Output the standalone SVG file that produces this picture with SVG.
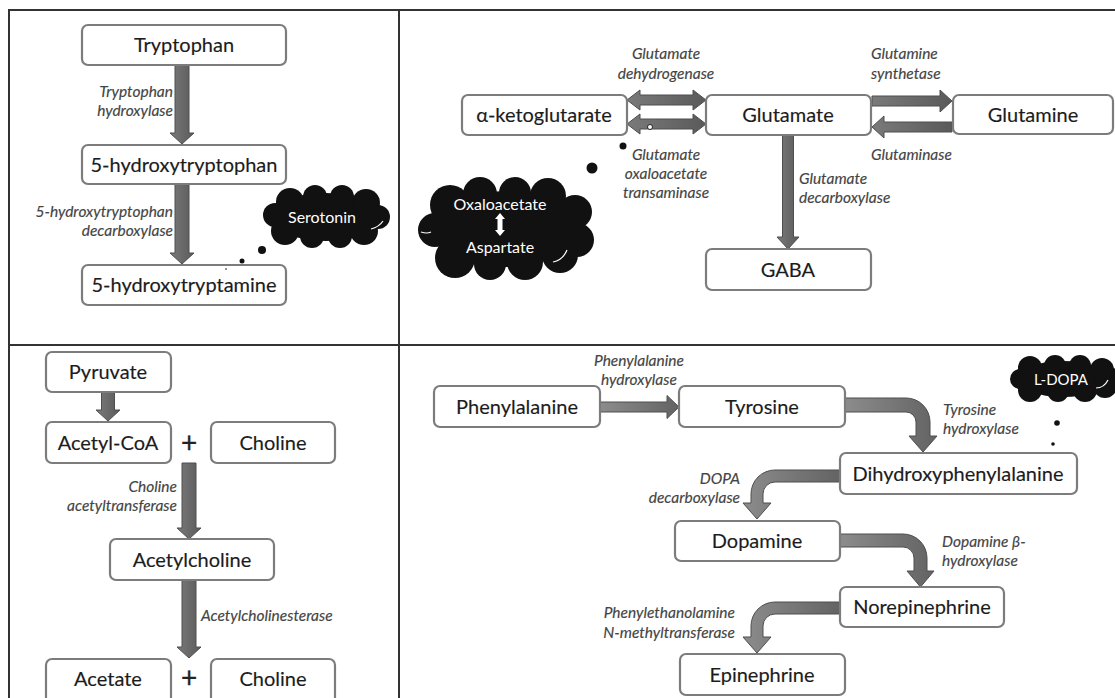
<svg xmlns="http://www.w3.org/2000/svg" width="1115" height="698" viewBox="0 0 1115 698">
<defs>
<linearGradient id="ag" x1="0" y1="0" x2="1" y2="0">
<stop offset="0" stop-color="#8c8c8c"/>
<stop offset="1" stop-color="#636363"/>
</linearGradient>
<linearGradient id="vg" x1="0" y1="0" x2="1" y2="0">
<stop offset="0" stop-color="#7a7a7a"/>
<stop offset="0.5" stop-color="#6a6a6a"/>
<stop offset="1" stop-color="#5a5a5a"/>
</linearGradient>
</defs>
<style>
.box{fill:#fff;stroke:#7c7c7c;stroke-width:2.2}
.t{font-family:Lato,"Liberation Sans",sans-serif;font-size:20px;fill:#1c1c1c;stroke:#1c1c1c;stroke-width:0.15;text-anchor:middle}
.l{font-family:Lato,"Liberation Sans",sans-serif;font-size:15.5px;font-style:italic;fill:#444;stroke:#444;stroke-width:0.15}
.e{text-anchor:end}
.m{text-anchor:middle}
.w{font-family:Lato,"Liberation Sans",sans-serif;fill:#fff;text-anchor:middle}
.arr{fill:url(#vg);stroke:#4e4e4e;stroke-width:1}
.harr{fill:url(#ag);stroke:#4e4e4e;stroke-width:1}
.frame{stroke:#333;stroke-width:2;fill:none}
.cloud{fill:#111}
.dot{fill:#111}
.plus{font-family:Lato,"Liberation Sans",sans-serif;font-size:28px;fill:#222;stroke:#222;stroke-width:0.3;text-anchor:middle}
</style>
<rect width="1115" height="698" fill="#fff"/>
<g id="frame">
<path class="frame" d="M9,698 V10 H1115 M399,10 V698 M9,345 H1115"/>
</g>
<g id="connectors">
<path class="arr" d="M175,65 H189 V133 H194 L182,144 L170,133 H175 Z"/>
<path class="arr" d="M175,184 H189 V253 H194 L182,264 L170,253 H175 Z"/>
<path class="arr" d="M101.5,392 H114.5 V410 H120 L108,421 L96,410 H101.5 Z"/>
<path class="arr" d="M182,463 H196 V528 H201 L189,539 L177,528 H182 Z"/>
<path class="arr" d="M182,580 H196 V647 H201 L189,658 L177,647 H182 Z"/>
<path class="arr" d="M782.5,135 H793.5 V237 H799 L788,249 L777,237 H782.5 Z"/>
<path class="arr" d="M627,100 L640,90 V95 H693 V90 L706,100 L693,110 V105 H640 V110 Z"/>
<path class="arr" d="M627,124 L640,114 V119 H693 V114 L706,124 L693,134 V129 H640 V134 Z"/>
<circle cx="650" cy="127" r="2.5" fill="#fff" stroke="#222" stroke-width="1"/>
<path class="arr" d="M872,96 H940 V90 L952,101 L940,112 V106 H872 Z"/>
<path class="arr" d="M952,122 H884 V116 L872,127 L884,138 V132 H952 Z"/>
<path class="harr" d="M600,402 H667 V395.5 L679,407 L667,418.5 V412 H600 Z"/>
<path class="harr" d="M845,398 H906 A24,24 0 0 1 930,422 V436 H937 L923,452 L909,436 H916 V422 A10,10 0 0 0 906,412 H845 Z"/>
<path class="harr" d="M840,534 H903 A24,24 0 0 1 927,558 V571 H934 L920.5,587 L907,571 H914 V558 A11,11 0 0 0 903,547 H840 Z"/>
<path class="harr" d="M840,470 H775 A24,24 0 0 0 751,494 V503 H743 L757,519 L771,503 H763 V494 A12,12 0 0 1 775,482 H840 Z"/>
<path class="harr" d="M840,602 H775 A24,24 0 0 0 751,626 V637 H743 L757,653 L771,637 H763 V626 A12,12 0 0 1 775,614 H840 Z"/>
</g>
<g id="labels">
<text class="l e" x="173" y="97">Tryptophan</text>
<text class="l e" x="173" y="116">hydroxylase</text>
<text class="l e" x="173" y="217">5-hydroxytryptophan</text>
<text class="l e" x="173" y="236">decarboxylase</text>
<text class="l m" x="666" y="59">Glutamate</text>
<text class="l m" x="666" y="79">dehydrogenase</text>
<text class="l" x="871" y="59">Glutamine</text>
<text class="l" x="871" y="79">synthetase</text>
<text class="l" x="871" y="160">Glutaminase</text>
<text class="l m" x="666" y="160">Glutamate</text>
<text class="l m" x="666" y="179">oxaloacetate</text>
<text class="l m" x="666" y="198">transaminase</text>
<text class="l" x="799" y="184">Glutamate</text>
<text class="l" x="799" y="203">decarboxylase</text>
<text class="l e" x="177" y="492">Choline</text>
<text class="l e" x="177" y="511">acetyltransferase</text>
<text class="l" x="201" y="621">Acetylcholinesterase</text>
<text class="l m" x="639" y="366">Phenylalanine</text>
<text class="l m" x="639" y="385">hydroxylase</text>
<text class="l" x="943" y="415">Tyrosine</text>
<text class="l" x="943" y="434">hydroxylase</text>
<text class="l e" x="740" y="484">DOPA</text>
<text class="l e" x="740" y="503">decarboxylase</text>
<text class="l" x="942" y="547">Dopamine β-</text>
<text class="l" x="942" y="566">hydroxylase</text>
<text class="l e" x="735" y="618">Phenylethanolamine</text>
<text class="l e" x="735" y="638">N-methyltransferase</text>
</g>
<g id="tryptophan"><rect class="box" x="82" y="25" width="204" height="40" rx="6"/><text class="t" x="184" y="52">Tryptophan</text></g>
<g id="htp"><rect class="box" x="82" y="145" width="204" height="39" rx="6"/><text class="t" x="184" y="171.5">5-hydroxytryptophan</text></g>
<g id="ht"><rect class="box" x="82" y="265" width="204" height="40" rx="6"/><text class="t" x="184" y="292">5-hydroxytryptamine</text></g>
<g id="serotonin">
<g class="cloud">
<ellipse cx="326" cy="217" rx="55" ry="24"/>
<circle cx="290" cy="202" r="14"/><circle cx="315" cy="197" r="12"/><circle cx="342" cy="197" r="12"/><circle cx="366" cy="203" r="14"/>
<circle cx="285" cy="231" r="14"/><circle cx="312" cy="236" r="12"/><circle cx="340" cy="236" r="12"/><circle cx="364" cy="231" r="14"/>
<circle cx="275" cy="215" r="12"/><circle cx="378" cy="217" r="12"/>
</g>
<path d="M371,229 q8,-2 12,-8" stroke="#fff" stroke-width="1.2" fill="none"/>
<text class="w" x="322" y="223" font-size="16">Serotonin</text>
<circle class="dot" cx="262" cy="250" r="4"/><circle class="dot" cx="242" cy="261" r="2.5"/><circle class="dot" cx="226" cy="269" r="0.8"/>
</g>
<g id="akg"><rect class="box" x="462" y="95" width="165" height="40" rx="6"/><text class="t" x="544" y="122">α-ketoglutarate</text></g>
<g id="glutamate"><rect class="box" x="706" y="95" width="165" height="40" rx="6"/><text class="t" x="788" y="122">Glutamate</text></g>
<g id="glutamine"><rect class="box" x="953" y="95" width="160" height="39" rx="6"/><text class="t" x="1033" y="121.5">Glutamine</text></g>
<g id="gaba"><rect class="box" x="706" y="249" width="165" height="41" rx="6"/><text class="t" x="788" y="276.5">GABA</text></g>
<g id="oxaloacetate">
<g class="cloud">
<ellipse cx="506" cy="229" rx="72" ry="38"/>
<circle cx="450" cy="205" r="20"/><circle cx="480" cy="194" r="17"/><circle cx="515" cy="193" r="16"/><circle cx="548" cy="196" r="18"/><circle cx="575" cy="212" r="17"/>
<circle cx="435" cy="230" r="17"/><circle cx="577" cy="240" r="17"/>
<circle cx="455" cy="258" r="20"/><circle cx="490" cy="264" r="16"/><circle cx="525" cy="262" r="18"/><circle cx="560" cy="255" r="18"/>
</g>
<path d="M553,262 q10,-2 14,-12 M421,232 q6,2 10,0" stroke="#fff" stroke-width="1.2" fill="none"/>
<text class="w" x="500" y="210" font-size="16">Oxaloacetate</text>
<path d="M500,213 L505,219 H502.5 V230 H505 L500,236 L495,230 H497.5 V219 H495 Z" fill="#fff"/>
<text class="w" x="500" y="253" font-size="16">Aspartate</text>
<circle class="dot" cx="592" cy="168" r="5.5"/><circle class="dot" cx="623" cy="146" r="3.5"/>
</g>
<g id="pyruvate"><rect class="box" x="46" y="352" width="125" height="40" rx="6"/><text class="t" x="108" y="379">Pyruvate</text></g>
<g id="acetylcoa"><rect class="box" x="46" y="422" width="125" height="41" rx="6"/><text class="t" x="108" y="449.5">Acetyl-CoA</text></g>
<text class="plus" x="189" y="453">+</text>
<g id="choline1"><rect class="box" x="211" y="422" width="124" height="41" rx="6"/><text class="t" x="273" y="449.5">Choline</text></g>
<g id="acetylcholine"><rect class="box" x="110" y="539" width="164" height="41" rx="6"/><text class="t" x="192" y="566.5">Acetylcholine</text></g>
<g id="acetate"><rect class="box" x="46" y="659" width="125" height="46" rx="6"/><text class="t" x="108" y="685.5">Acetate</text></g>
<text class="plus" x="189" y="688">+</text>
<g id="choline2"><rect class="box" x="211" y="659" width="124" height="46" rx="6"/><text class="t" x="273" y="685.5">Choline</text></g>
<g id="phenylalanine"><rect class="box" x="434" y="386" width="166" height="41" rx="6"/><text class="t" x="517" y="413.5">Phenylalanine</text></g>
<g id="tyrosine"><rect class="box" x="679" y="386" width="166" height="41" rx="6"/><text class="t" x="762" y="413.5">Tyrosine</text></g>
<g id="ldopa">
<g class="cloud">
<ellipse cx="1063" cy="379" rx="45" ry="18"/>
<circle cx="1030" cy="368" r="12"/><circle cx="1055" cy="366" r="11"/><circle cx="1080" cy="366" r="11"/><circle cx="1102" cy="370" r="12"/>
<circle cx="1030" cy="390" r="12"/><circle cx="1058" cy="391" r="11"/><circle cx="1085" cy="390" r="12"/><circle cx="1105" cy="386" r="12"/>
<circle cx="1020" cy="379" r="10"/><circle cx="1112" cy="378" r="10"/>
</g>
<path d="M1096,388 q8,0 12,-8" stroke="#fff" stroke-width="1.2" fill="none"/>
<text class="w" x="1061" y="385" font-size="15">L-DOPA</text>
<circle class="dot" cx="1057" cy="423" r="2.8"/><circle class="dot" cx="1053" cy="444" r="1.8"/><circle class="dot" cx="1048" cy="460" r="0.7"/>
</g>
<g id="dopa"><rect class="box" x="840" y="453" width="237" height="41" rx="6"/><text class="t" x="958" y="480.5">Dihydroxyphenylalanine</text></g>
<g id="dopamine"><rect class="box" x="675" y="521" width="165" height="40" rx="6"/><text class="t" x="757" y="548">Dopamine</text></g>
<g id="norepinephrine"><rect class="box" x="840" y="587" width="164" height="40" rx="6"/><text class="t" x="922" y="614">Norepinephrine</text></g>
<g id="epinephrine"><rect class="box" x="680" y="654" width="165" height="41" rx="6"/><text class="t" x="762" y="681.5">Epinephrine</text></g>
</svg>
